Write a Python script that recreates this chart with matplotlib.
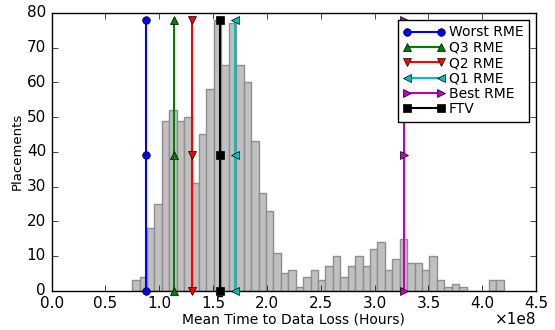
import numpy as np
import matplotlib
matplotlib.use("Agg")
import matplotlib.pyplot as plt
from matplotlib.ticker import FuncFormatter, MultipleLocator

# histogram of MTTDL over placements (50 bins)
bin_lo = 0.748e8
bin_hi = 4.20e8
counts = [3, 4, 18, 25, 49, 52, 49, 50, 31, 45,
          58, 78, 65, 77, 65, 60, 43, 28, 23, 11,
          5, 6, 1, 4, 6, 3, 7, 10, 4, 7,
          10, 7, 12, 14, 6, 9, 15, 8, 8, 6,
          10, 3, 1, 2, 1, 0, 0, 0, 3, 3]

# reference placements
names = ["Worst RME", "Q3 RME", "Q2 RME", "Q1 RME", "Best RME", "FTV"]
mttdl = [0.88e8, 1.14e8, 1.30e8, 1.70e8, 3.27e8, 1.56e8]
line_y = [0, 39, 78]

colors = ["b", "g", "r", "c", "m", "k"]
markers = ["o", "^", "v", "<", ">", "s"]

plt.style.use("classic")
fig = plt.figure(figsize=(5.55, 3.3), dpi=100, facecolor="white")
ax = fig.add_axes([0.093, 0.119, 0.873, 0.842])

edges = np.linspace(bin_lo, bin_hi, len(counts) + 1)
w = edges[1] - edges[0]
ax.bar(edges[:-1], counts, width=w, align="edge", color="#c0c0c0",
       edgecolor="#8e8e8e", linewidth=1.0, zorder=1)

for name, x, c, m in zip(names, mttdl, colors, markers):
    ax.plot([x] * len(line_y), line_y, color=c, marker=m, markersize=5.5,
            linewidth=1.5, label=name, zorder=3, clip_on=False)

ax.set_xlim(0, 4.5e8)
ax.set_ylim(0, 80)
ax.xaxis.set_major_locator(MultipleLocator(0.5e8))
ax.yaxis.set_major_locator(MultipleLocator(10))
ax.xaxis.set_major_formatter(FuncFormatter(lambda v, p: "%.1f" % (v / 1e8)))
ax.tick_params(labelsize=11, direction="in", length=4)
ax.text(1.0, -0.075, "\u00d71e8", transform=ax.transAxes, ha="right",
        va="top", fontsize=11)

ax.set_xlabel("Mean Time to Data Loss (Hours)", fontsize=10, labelpad=1)
ax.set_ylabel("Placements", fontsize=9.5, labelpad=2)

leg = ax.legend(loc="upper right", fontsize=10, numpoints=2,
                handlelength=3.0, handletextpad=0.3, labelspacing=0.1,
                borderaxespad=0.5, borderpad=0.4)
leg.set_zorder(5)

fig.savefig("out.png", dpi=100, facecolor="white")
